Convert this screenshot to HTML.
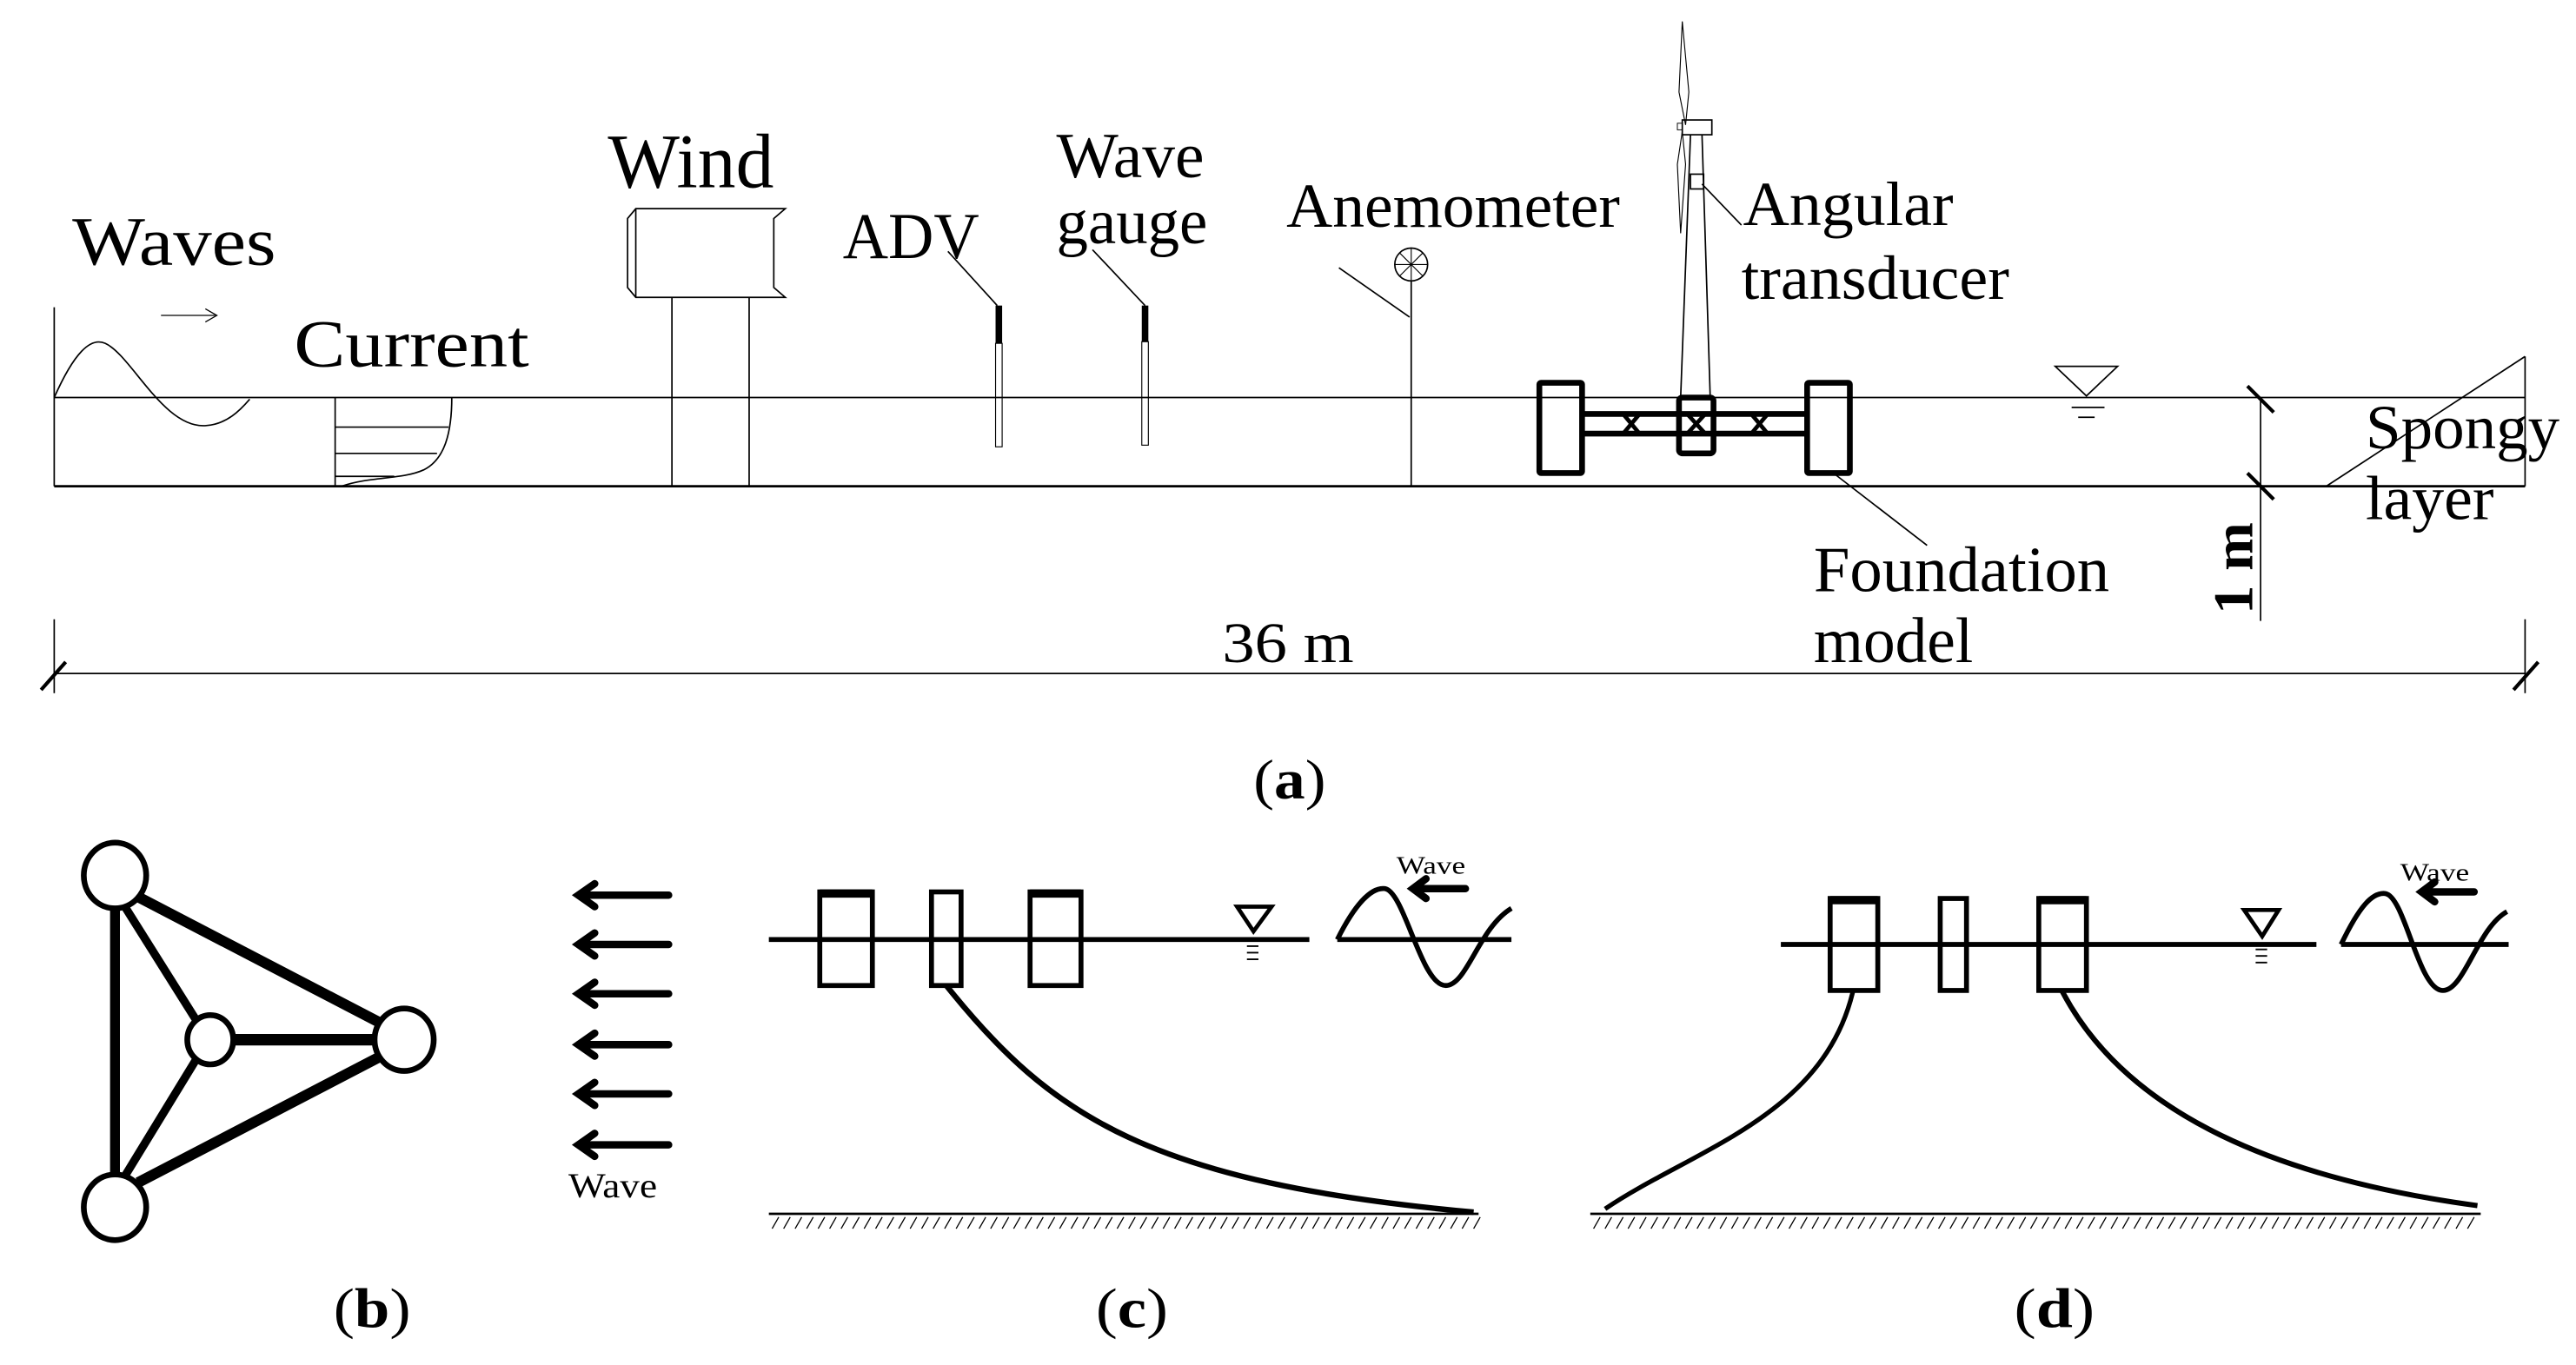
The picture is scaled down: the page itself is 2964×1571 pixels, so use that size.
<!DOCTYPE html>
<html><head><meta charset="utf-8"><style>html,body{margin:0;padding:0;background:#fff}svg{display:block}text{font-family:"Liberation Serif","DejaVu Serif",serif;fill:#000}</style></head>
<body>
<svg width="2964" height="1571" viewBox="0 0 1568 831" xmlns="http://www.w3.org/2000/svg">
<g fill="none" stroke="#000" stroke-width="0.9">
<line x1="33" y1="187" x2="33" y2="296"/>
<line x1="33" y1="242" x2="1537" y2="242"/>
<line x1="33" y1="296" x2="1537" y2="296" stroke-width="1.5"/>
<path d="M33,242 C45,215 55,205 64,209 C80,216 100,262 126,259 C138,258 146,250 152,243"/>
<line x1="98" y1="192" x2="131" y2="192" stroke-width="0.7"/>
<path d="M125,188 L132,192 L125,196" stroke-width="0.7"/>
<line x1="204" y1="242" x2="204" y2="296"/>
<path d="M275,242 C275,265 270,280 258,286 C245,292 225,290 208,296"/>
<line x1="204" y1="260" x2="273" y2="260"/>
<line x1="204" y1="276" x2="266" y2="276"/>
<line x1="204" y1="290" x2="240" y2="290"/>
<path d="M387,127 L478,127 L471,133 L471,175 L478,181 L387,181 L382,175 L382,133 Z"/>
<line x1="387" y1="127" x2="387" y2="181"/>
<line x1="409" y1="181" x2="409" y2="296"/>
<line x1="456" y1="181" x2="456" y2="296"/>
<line x1="577" y1="153" x2="607" y2="186"/>
<rect x="606" y="209" width="4" height="63" stroke-width="0.6"/>
<line x1="665" y1="152" x2="697" y2="186"/>
<rect x="695" y="208" width="4" height="63" stroke-width="0.6"/>
<line x1="859" y1="171" x2="859" y2="296"/>
<line x1="815" y1="163" x2="858" y2="193"/>
<circle cx="859" cy="161" r="10"/>
<line x1="849" y1="161" x2="869" y2="161" stroke-width="0.6"/>
<line x1="859" y1="151" x2="859" y2="171" stroke-width="0.6"/>
<line x1="852" y1="154" x2="866" y2="168" stroke-width="0.6"/>
<line x1="866" y1="154" x2="852" y2="168" stroke-width="0.6"/>
<path d="M1024,13 L1028,56 L1026,76 L1022,56 Z" stroke-width="0.6"/>
<path d="M1024,80 L1026,100 L1023,142 L1021,100 Z" stroke-width="0.6"/>
<rect x="1024" y="73" width="18" height="9"/>
<rect x="1021" y="75" width="3" height="4" stroke-width="0.5"/>
<line x1="1029" y1="82" x2="1023" y2="242"/>
<line x1="1036" y1="82" x2="1041" y2="242"/>
<rect x="1029" y="106" width="8" height="9"/>
<line x1="1036" y1="112" x2="1060" y2="137"/>
<g stroke-width="3.5">
<rect x="937" y="233" width="26" height="55" rx="1"/>
<rect x="1100" y="233" width="26" height="55" rx="1"/>
<rect x="1022" y="242" width="21" height="34" rx="2"/>
<line x1="963" y1="252" x2="1100" y2="252"/>
<line x1="963" y1="264" x2="1100" y2="264"/>
</g>
<g stroke-width="2.5">
<path d="M988,252 L998,264 M998,252 L988,264"/>
<path d="M1066,252 L1076,264 M1076,252 L1066,264"/>
<path d="M1027,252 L1038,264 M1038,252 L1027,264"/>
</g>
<line x1="1116" y1="288" x2="1173" y2="332"/>
<path d="M1251,223 L1289,223 L1270,241 Z"/>
<line x1="1261" y1="248" x2="1281" y2="248"/>
<line x1="1265" y1="254" x2="1275" y2="254"/>
<line x1="1376" y1="243" x2="1376" y2="378"/>
<line x1="1368" y1="235" x2="1384" y2="251" stroke-width="2.2"/>
<line x1="1368" y1="288" x2="1384" y2="304" stroke-width="2.2"/>
<line x1="1537" y1="217" x2="1416" y2="296"/>
<line x1="1537" y1="217" x2="1537" y2="296"/>
<line x1="33" y1="410" x2="1537" y2="410"/>
<line x1="33" y1="377" x2="33" y2="422"/>
<line x1="1537" y1="377" x2="1537" y2="422"/>
<line x1="25" y1="420" x2="40" y2="403" stroke-width="2.2"/>
<line x1="1530" y1="420" x2="1545" y2="403" stroke-width="2.2"/>
</g>
<g>
<text x="44" y="161" font-size="42" textLength="124" lengthAdjust="spacingAndGlyphs">Waves</text>
<text x="179" y="223" font-size="41" textLength="143" lengthAdjust="spacingAndGlyphs">Current</text>
<text x="370" y="114" font-size="47" textLength="101" lengthAdjust="spacingAndGlyphs">Wind</text>
<text x="513" y="157" font-size="40" textLength="83" lengthAdjust="spacingAndGlyphs">ADV</text>
<text x="643" y="108" font-size="39" textLength="90" lengthAdjust="spacingAndGlyphs">Wave</text>
<text x="643" y="148" font-size="39" textLength="92" lengthAdjust="spacingAndGlyphs">gauge</text>
<text x="783" y="138" font-size="38" textLength="203" lengthAdjust="spacingAndGlyphs">Anemometer</text>
<text x="1061" y="137" font-size="38" textLength="128" lengthAdjust="spacingAndGlyphs">Angular</text>
<text x="1060" y="182" font-size="38" textLength="163" lengthAdjust="spacingAndGlyphs">transducer</text>
<text x="1440" y="273" font-size="38" textLength="118" lengthAdjust="spacingAndGlyphs">Spongy</text>
<text x="1440" y="316" font-size="38" textLength="78" lengthAdjust="spacingAndGlyphs">layer</text>
<text x="1104" y="360" font-size="39" textLength="180" lengthAdjust="spacingAndGlyphs">Foundation</text>
<text x="1104" y="403" font-size="39" textLength="97" lengthAdjust="spacingAndGlyphs">model</text>
<text x="744" y="403" font-size="35" textLength="80" lengthAdjust="spacingAndGlyphs">36 m</text>
<text transform="translate(1371,374) rotate(-90)" font-size="34" font-weight="bold" textLength="56" lengthAdjust="spacingAndGlyphs">1 m</text>
<text x="763" y="486" font-size="34" textLength="44" lengthAdjust="spacingAndGlyphs">(<tspan font-weight="bold">a</tspan>)</text>
<text x="203" y="808" font-size="34" textLength="47" lengthAdjust="spacingAndGlyphs">(<tspan font-weight="bold">b</tspan>)</text>
<text x="667" y="808" font-size="34" textLength="44" lengthAdjust="spacingAndGlyphs">(<tspan font-weight="bold">c</tspan>)</text>
<text x="1226" y="808" font-size="34" textLength="49" lengthAdjust="spacingAndGlyphs">(<tspan font-weight="bold">d</tspan>)</text>
<text x="346" y="729" font-size="21" textLength="54" lengthAdjust="spacingAndGlyphs">Wave</text>
<text x="850" y="532" font-size="15" textLength="42" lengthAdjust="spacingAndGlyphs">Wave</text>
<text x="1461" y="536" font-size="15" textLength="42" lengthAdjust="spacingAndGlyphs">Wave</text>
</g>
<g fill="none" stroke="#000">
<line x1="70" y1="553" x2="70" y2="715" stroke-width="6"/>
<line x1="84" y1="546" x2="230" y2="622" stroke-width="6.5"/>
<line x1="84" y1="720" x2="230" y2="644" stroke-width="6.5"/>
<line x1="76" y1="552" x2="120" y2="622" stroke-width="5"/>
<line x1="76" y1="716" x2="120" y2="644" stroke-width="5"/>
<line x1="142" y1="633" x2="228" y2="633" stroke-width="7"/>
<g stroke-width="3.5" fill="#fff">
<ellipse cx="70" cy="533" rx="19" ry="20"/>
<ellipse cx="70" cy="735" rx="19" ry="20"/>
<ellipse cx="246" cy="633" rx="18" ry="19"/>
<ellipse cx="128" cy="633" rx="14" ry="15"/>
</g>
</g>
<g stroke="#000" stroke-width="4.5" fill="none" stroke-linecap="round">
<path d="M407,545 H352 M362,538 L352,545 L362,552"/>
<path d="M407,575 H352 M362,568 L352,575 L362,582"/>
<path d="M407,605 H352 M362,598 L352,605 L362,612"/>
<path d="M407,636 H352 M362,629 L352,636 L362,643"/>
<path d="M407,666 H352 M362,659 L352,666 L362,673"/>
<path d="M407,697 H352 M362,690 L352,697 L362,704"/>
<path d="M892,541 H862 M868,535 L860,541 L868,547"/>
<path d="M1506,543 H1476 M1482,537 L1474,543 L1482,549"/>
</g>
<g fill="none" stroke="#000" stroke-width="3">
<line x1="468" y1="572" x2="797" y2="572"/>
<rect x="499" y="543" width="32" height="57"/>
<rect x="567" y="543" width="18" height="57"/>
<rect x="627" y="543" width="31" height="57"/>
<line x1="499" y1="544" x2="531" y2="544" stroke-width="5"/>
<line x1="627" y1="544" x2="658" y2="544" stroke-width="5"/>
<path d="M753,552 L774,552 L763,567 Z" stroke-width="2.5"/>
<path d="M759,576 H766 M759,580 H766 M759,584 H766" stroke-width="1"/>
<line x1="814" y1="572" x2="920" y2="572"/>
<path d="M814,572 C825,550 835,540 843,541 C855,543 865,600 880,600 C893,600 900,565 920,553"/>
<path d="M576,600 C640,680 700,720 897,738" stroke-width="3.4"/>
<line x1="468" y1="739" x2="900" y2="739" stroke-width="1.5"/>
</g>
<g fill="none" stroke="#000" stroke-width="3">
<line x1="1084" y1="575" x2="1410" y2="575"/>
<rect x="1114" y="547" width="29" height="56"/>
<rect x="1181" y="547" width="16" height="56"/>
<rect x="1241" y="547" width="29" height="56"/>
<line x1="1114" y1="548" x2="1143" y2="548" stroke-width="5"/>
<line x1="1241" y1="548" x2="1270" y2="548" stroke-width="5"/>
<path d="M1366,554 L1387,554 L1377,570 Z" stroke-width="2.5"/>
<path d="M1373,578 H1380 M1373,582 H1380 M1373,586 H1380" stroke-width="1"/>
<line x1="1425" y1="575" x2="1527" y2="575"/>
<path d="M1425,575 C1436,552 1444,543 1452,544 C1464,546 1472,603 1487,603 C1500,603 1508,565 1526,555"/>
<path d="M1128,603 C1110,680 1030,700 977,736" stroke-width="2.8"/>
<path d="M1255,603 C1295,680 1390,718 1508,734" stroke-width="3.2"/>
<line x1="968" y1="739" x2="1510" y2="739" stroke-width="1.5"/>
</g>
<g stroke="#000" stroke-width="0.7">
<path d="M474,741 l-4,7 M481,741 l-4,7 M488,741 l-4,7 M495,741 l-4,7 M502,741 l-4,7 M509,741 l-4,7 M516,741 l-4,7 M523,741 l-4,7 M530,741 l-4,7 M537,741 l-4,7 M544,741 l-4,7 M551,741 l-4,7 M558,741 l-4,7 M565,741 l-4,7 M572,741 l-4,7 M579,741 l-4,7 M586,741 l-4,7 M593,741 l-4,7 M600,741 l-4,7 M607,741 l-4,7 M614,741 l-4,7 M621,741 l-4,7 M628,741 l-4,7 M635,741 l-4,7 M642,741 l-4,7 M649,741 l-4,7 M656,741 l-4,7 M663,741 l-4,7 M670,741 l-4,7 M677,741 l-4,7 M684,741 l-4,7 M691,741 l-4,7 M698,741 l-4,7 M705,741 l-4,7 M712,741 l-4,7 M719,741 l-4,7 M726,741 l-4,7 M733,741 l-4,7 M740,741 l-4,7 M747,741 l-4,7 M754,741 l-4,7 M761,741 l-4,7 M768,741 l-4,7 M775,741 l-4,7 M782,741 l-4,7 M789,741 l-4,7 M796,741 l-4,7 M803,741 l-4,7 M810,741 l-4,7 M817,741 l-4,7 M824,741 l-4,7 M831,741 l-4,7 M838,741 l-4,7 M845,741 l-4,7 M852,741 l-4,7 M859,741 l-4,7 M866,741 l-4,7 M873,741 l-4,7 M880,741 l-4,7 M887,741 l-4,7 M894,741 l-4,7 M901,741 l-4,7"/>
<path d="M974,741 l-4,7 M981,741 l-4,7 M988,741 l-4,7 M995,741 l-4,7 M1002,741 l-4,7 M1009,741 l-4,7 M1016,741 l-4,7 M1023,741 l-4,7 M1030,741 l-4,7 M1037,741 l-4,7 M1044,741 l-4,7 M1051,741 l-4,7 M1058,741 l-4,7 M1065,741 l-4,7 M1072,741 l-4,7 M1079,741 l-4,7 M1086,741 l-4,7 M1093,741 l-4,7 M1100,741 l-4,7 M1107,741 l-4,7 M1114,741 l-4,7 M1121,741 l-4,7 M1128,741 l-4,7 M1135,741 l-4,7 M1142,741 l-4,7 M1149,741 l-4,7 M1156,741 l-4,7 M1163,741 l-4,7 M1170,741 l-4,7 M1177,741 l-4,7 M1184,741 l-4,7 M1191,741 l-4,7 M1198,741 l-4,7 M1205,741 l-4,7 M1212,741 l-4,7 M1219,741 l-4,7 M1226,741 l-4,7 M1233,741 l-4,7 M1240,741 l-4,7 M1247,741 l-4,7 M1254,741 l-4,7 M1261,741 l-4,7 M1268,741 l-4,7 M1275,741 l-4,7 M1282,741 l-4,7 M1289,741 l-4,7 M1296,741 l-4,7 M1303,741 l-4,7 M1310,741 l-4,7 M1317,741 l-4,7 M1324,741 l-4,7 M1331,741 l-4,7 M1338,741 l-4,7 M1345,741 l-4,7 M1352,741 l-4,7 M1359,741 l-4,7 M1366,741 l-4,7 M1373,741 l-4,7 M1380,741 l-4,7 M1387,741 l-4,7 M1394,741 l-4,7 M1401,741 l-4,7 M1408,741 l-4,7 M1415,741 l-4,7 M1422,741 l-4,7 M1429,741 l-4,7 M1436,741 l-4,7 M1443,741 l-4,7 M1450,741 l-4,7 M1457,741 l-4,7 M1464,741 l-4,7 M1471,741 l-4,7 M1478,741 l-4,7 M1485,741 l-4,7 M1492,741 l-4,7 M1499,741 l-4,7 M1506,741 l-4,7"/>
</g>
<g fill="#000">
<rect x="606" y="186" width="4" height="23"/>
<rect x="695" y="186" width="4" height="22"/>
</g>
</svg>
</body></html>
